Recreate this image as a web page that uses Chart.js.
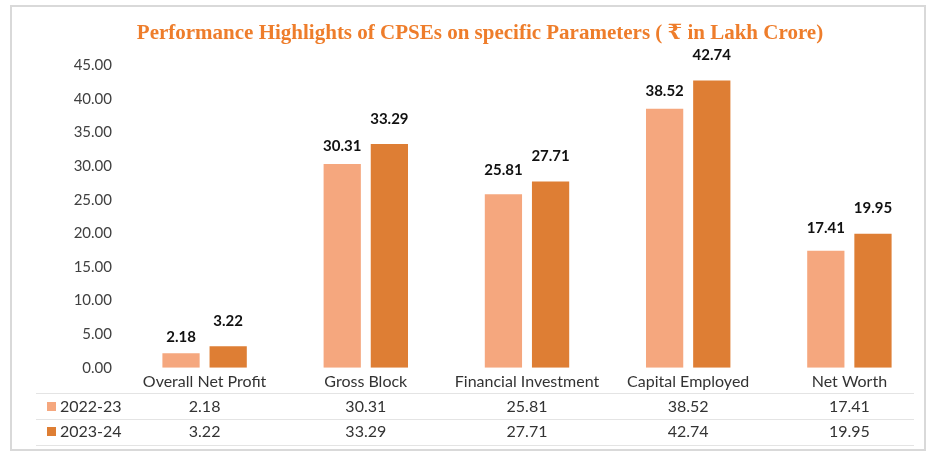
<!DOCTYPE html>
<html>
<head>
<meta charset="UTF-8">
<title>Performance Highlights of CPSEs</title>
<script src="https://cdn.jsdelivr.net/npm/chart.js@4.4.1/dist/chart.umd.min.js"></script>
<style>
  html, body { margin: 0; padding: 0; background: #fff; }
  #wrap { width: 938px; height: 455px; position: relative; }
</style>
</head>
<body>
<div id="wrap"><canvas id="grafica" width="938" height="455"></canvas></div>
<script>
const categorias = ['Overall Net Profit', 'Gross Block', 'Financial Investment', 'Capital Employed', 'Net Worth'];
const serie2223 = [2.18, 30.31, 25.81, 38.52, 17.41];
const serie2324 = [3.22, 33.29, 27.71, 42.74, 19.95];
const nombresSeries = ['2022-23', '2023-24'];
const colores = ['#F5A77E', '#DE7E34'];

const fuente = 'Lato, "Open Sans", sans-serif';

// etiquetas encima de cada barra + tabla de datos debajo del eje
const tablaPlugin = {
    id: 'tablaDatos',
    beforeDraw(chart) {
        const c = chart.ctx;
        c.save();
        c.strokeStyle = '#d9d9d9';
        c.lineWidth = 2;
        c.strokeRect(11, 6, 914, 444);
        c.restore();
    },
    afterDatasetsDraw(chart, args, opts) {
        const c = chart.ctx;
        c.save();
        c.font = 'bold 15px ' + fuente;
        c.fillStyle = '#111';
        c.textAlign = 'center';
        c.textBaseline = 'middle';
        chart.data.datasets.forEach((ds, i) => {
            const meta = chart.getDatasetMeta(i);
            meta.data.forEach((bar, j) => {
                const lift = opts.lifts[i][j];
                c.fillText(ds.data[j].toFixed(2), bar.x, bar.y - lift);
            });
        });
        c.restore();
    },
    afterDraw(chart) {
        const c = chart.ctx;
        const x = chart.scales.x;
        const filas = [407, 432];
        c.save();
        c.strokeStyle = '#e4e4e4';
        c.lineWidth = 1;
        [393.5, 419.5, 445.5].forEach(y => {
            c.beginPath();
            c.moveTo(36, y);
            c.lineTo(914, y);
            c.stroke();
        });
        c.font = '16px ' + fuente;
        c.textBaseline = 'middle';
        chart.data.datasets.forEach((ds, i) => {
            const y = filas[i];
            c.fillStyle = ds.backgroundColor;
            c.fillRect(47, y - 5, 9, 9);
            c.fillStyle = '#333';
            c.textAlign = 'left';
            c.fillText(ds.label, 60, y);
            c.textAlign = 'center';
            ds.data.forEach((v, j) => {
                c.fillText(v.toFixed(2), x.getPixelForValue(j), y);
            });
        });
        c.restore();
    }
};

const ctx = document.getElementById('grafica').getContext('2d');

new Chart(ctx, {
    type: 'bar',
    data: {
        labels: categorias,
        datasets: [
            { label: nombresSeries[0], data: serie2223, backgroundColor: colores[0] },
            { label: nombresSeries[1], data: serie2324, backgroundColor: colores[1] }
        ]
    },
    options: {
        responsive: false,
        animation: false,
        categoryPercentage: 0.585,
        barPercentage: 0.79,
        layout: { padding: { left: 30, right: 8, top: 0, bottom: 60 } },
        scales: {
            y: {
                min: 0,
                max: 45,
                afterFit(scale) { scale.width = 94; },
                grid: { display: false, drawTicks: false },
                border: { display: false },
                ticks: {
                    stepSize: 5,
                    padding: 12,
                    color: '#404040',
                    font: { family: fuente, size: 15 },
                    callback: v => Number(v).toFixed(2)
                }
            },
            x: {
                grid: { display: false, drawTicks: false },
                border: { display: false },
                ticks: {
                    padding: 4,
                    color: '#333',
                    font: { family: fuente, size: 16 }
                }
            }
        },
        plugins: {
            legend: { display: false },
            tooltip: { enabled: false },
            title: {
                display: true,
                text: 'Performance Highlights of CPSEs on specific Parameters ( \u20B9 in Lakh Crore)',
                color: '#EE7D2B',
                font: { family: '"Liberation Serif", "DejaVu Serif", serif', size: 21, weight: 'bold' },
                padding: { top: 21, bottom: 19 }
            },
            tablaDatos: {
                lifts: [[16, 18, 24, 18, 23], [25, 25, 25, 25, 25]]
            }
        }
    },
    plugins: [tablaPlugin]
});
</script>
</body>
</html>
